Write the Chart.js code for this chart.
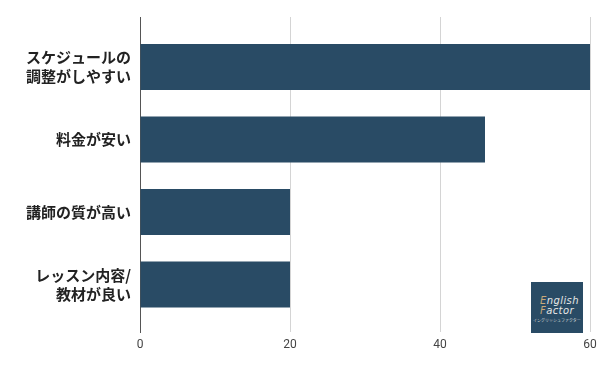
<!DOCTYPE html>
<html>
<head>
<meta charset="utf-8">
<script src="https://cdn.jsdelivr.net/npm/chart.js@4"></script>
<style>
  html, body { margin: 0; padding: 0; background: #fff; }
  #wrap { position: relative; width: 609px; height: 371px; }
  #logo {
    position: absolute; left: 531px; top: 282px; width: 52px; height: 51px;
    background: #294b65; color: #e6e6e6; font-family: "DejaVu Sans", sans-serif;
  }
  #logo .t { position: absolute; left: 9px; font-size: 10px; font-style: italic; letter-spacing: 0.4px; line-height: 10px; }
  #logo .t b { font-weight: normal; color: #c8a878; }
  #logo .s { position: absolute; left: 2px; top: 36px; font-size: 4px; line-height: 4px; white-space: nowrap;
    font-family: "Noto Sans CJK JP", sans-serif; color: #dcdcdc; }
</style>
</head>
<body>
<div id="wrap">
  <canvas id="chart" width="609" height="371"></canvas>
  <div id="logo">
    <div class="t" style="top:14px"><b>E</b>nglish</div>
    <div class="t" style="top:24px"><b>F</b>actor</div>
    <div class="s">イングリッシュファクター</div>
  </div>
</div>
<script>
// 項目
const categories = [
  ['スケジュールの', '調整がしやすい'],
  '料金が安い',
  '講師の質が高い',
  ['レッスン内容/', '教材が良い']
];
// 値
const values = [60, 46, 20, 20];
// 目盛り
const xTicks = [0, 20, 40, 60];

const barColor = '#294b65';

const ctx = document.getElementById('chart').getContext('2d');
new Chart(ctx, {
  type: 'bar',
  data: {
    datasets: [{
      data: values.map(function(v, i) { return { x: v, y: i }; }),
      backgroundColor: barColor,
      borderWidth: 0,
      categoryPercentage: 1,
      barPercentage: 0.635
    }]
  },
  options: {
    indexAxis: 'y',
    responsive: false,
    animation: false,
    layout: { padding: { top: 17, right: 19, left: 0, bottom: 0 } },
    plugins: { legend: { display: false }, tooltip: { enabled: false } },
    scales: {
      x: {
        type: 'linear',
        min: 0,
        max: 60,
        afterBuildTicks: function(s) { s.ticks = xTicks.map(function(v) { return { value: v }; }); },
        afterFit: function(s) { s.height = 39; },
        grid: {
          drawTicks: false,
          color: function(c) { return c.tick && c.tick.value === 0 ? '#555' : '#d4d4d4'; },
          lineWidth: 1
        },
        border: { display: false },
        ticks: { color: '#444', padding: 6, font: { family: 'Roboto', size: 12 } }
      },
      y: {
        type: 'linear',
        reverse: true,
        offset: false,
        min: -0.69,
        max: 3.655,
        afterBuildTicks: function(s) { s.ticks = categories.map(function(c, i) { return { value: i }; }); },
        afterFit: function(s) { s.width = 140; s.paddingTop = 0; s.paddingBottom = 0; },
        grid: { display: false, drawTicks: false, offset: false },
        border: { display: true, color: '#555', width: 1 },
        ticks: {
          color: '#222',
          padding: 9,
          font: { family: 'Noto Sans CJK JP', size: 15, weight: 'bold', lineHeight: 1.27 },
          callback: function(v) { return categories[v]; }
        }
      }
    }
  }
});
</script>
</body>
</html>
